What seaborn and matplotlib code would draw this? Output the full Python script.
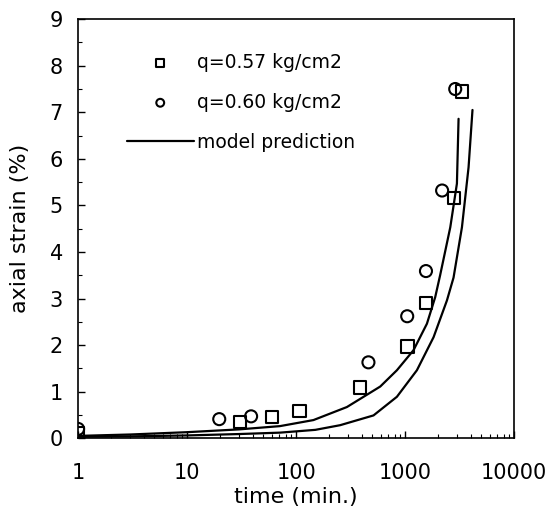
import matplotlib
matplotlib.use("Agg")
import matplotlib.pyplot as plt
from matplotlib.ticker import LogLocator, MultipleLocator, FixedLocator, FixedFormatter
import seaborn as sns
import pandas as pd

# data
t_q057 = [1, 30.6, 59.8, 107, 387, 1050, 1550, 2800, 3310]
s_q057 = [0.10, 0.35, 0.46, 0.59, 1.09, 1.97, 2.90, 5.16, 7.45]
t_q060 = [1, 19.7, 38.6, 460, 1043, 1550, 2180, 2875]
s_q060 = [0.20, 0.41, 0.47, 1.63, 2.62, 3.59, 5.32, 7.50]

t_model1 = [1, 3, 10, 30, 71, 144, 292, 590, 839, 1191, 1582, 1884, 2090, 2590, 2980, 3085]
s_model1 = [0.05, 0.08, 0.13, 0.19, 0.26, 0.39, 0.67, 1.11, 1.46, 1.89, 2.46, 3.03, 3.50, 4.53, 5.47, 6.86]
t_model2 = [1, 3, 10, 30, 71, 150, 253, 512, 839, 1280, 1820, 2414, 2775, 3313, 3811, 4140]
s_model2 = [0.03, 0.04, 0.06, 0.09, 0.12, 0.18, 0.28, 0.49, 0.89, 1.46, 2.17, 2.96, 3.45, 4.53, 5.82, 7.05]

xticks = [1, 10, 100, 1000, 10000]
xtick_labels = ["1", "10", "100", "1000", "10000"]
yticks = list(range(0, 10))

sns.set_style("ticks")
plt.rcParams['font.family'] = ['DejaVu Sans']
plt.rcParams['text.color'] = 'black'
plt.rcParams['axes.labelcolor'] = 'black'
plt.rcParams['xtick.color'] = 'black'
plt.rcParams['ytick.color'] = 'black'

fig = plt.figure(figsize=(5.5, 5.18), dpi=100)
ax = fig.add_axes([0.142, 0.154, 0.793, 0.809])

d1 = pd.DataFrame({"t": t_q057, "s": s_q057})
d2 = pd.DataFrame({"t": t_q060, "s": s_q060})
m1 = pd.DataFrame({"t": t_model1, "s": s_model1})
m2 = pd.DataFrame({"t": t_model2, "s": s_model2})

sns.lineplot(data=m1, x="t", y="s", ax=ax, color="black", lw=1.6,
             label="model prediction", sort=False, zorder=2)
sns.lineplot(data=m2, x="t", y="s", ax=ax, color="black", lw=1.6,
             label="_nolegend_", sort=False, zorder=2)
sns.scatterplot(data=d1, x="t", y="s", ax=ax, marker="s", s=80,
                facecolor="none", edgecolor="black", linewidth=1.5,
                label="q=0.57 kg/cm2", zorder=3)
sns.scatterplot(data=d2, x="t", y="s", ax=ax, marker="o", s=75,
                facecolor="none", edgecolor="black", linewidth=1.5,
                label="q=0.60 kg/cm2", zorder=3)

ax.set_xscale("log")
ax.set_xlim(1, 10000)
ax.set_ylim(0, 9)
ax.xaxis.set_major_locator(FixedLocator(xticks))
ax.xaxis.set_major_formatter(FixedFormatter(xtick_labels))
ax.xaxis.set_minor_locator(LogLocator(base=10, subs=range(2, 10)))
ax.yaxis.set_major_locator(FixedLocator(yticks))
ax.yaxis.set_minor_locator(MultipleLocator(0.5))
ax.tick_params(which="major", direction="in", length=5, width=1, labelsize=15,
               color="black", labelcolor="black")
ax.tick_params(which="minor", direction="in", length=3, width=0.8, color="black")
ax.tick_params(axis="x", which="major", pad=18)
ax.tick_params(axis="y", which="major", pad=11)
for sp in ax.spines.values():
    sp.set_visible(True)
    sp.set_linewidth(1.2)
    sp.set_color("black")

ax.set_xlabel("time (min.)", fontsize=16, labelpad=3, color="black")
ax.set_ylabel("axial strain (%)", fontsize=16, labelpad=14, color="black")

h, l = ax.get_legend_handles_labels()
order = [l.index("q=0.57 kg/cm2"), l.index("q=0.60 kg/cm2"), l.index("model prediction")]
leg = ax.legend([h[i] for i in order], [l[i] for i in order], loc="upper left",
                bbox_to_anchor=(0.112, 0.92), frameon=False, fontsize=13.5,
                handlelength=3.55, handletextpad=0.2, labelspacing=1.12,
                borderpad=0, borderaxespad=0, markerscale=0.65)
for txt in leg.get_texts():
    txt.set_color("black")

fig.savefig("out.png", dpi=100)
